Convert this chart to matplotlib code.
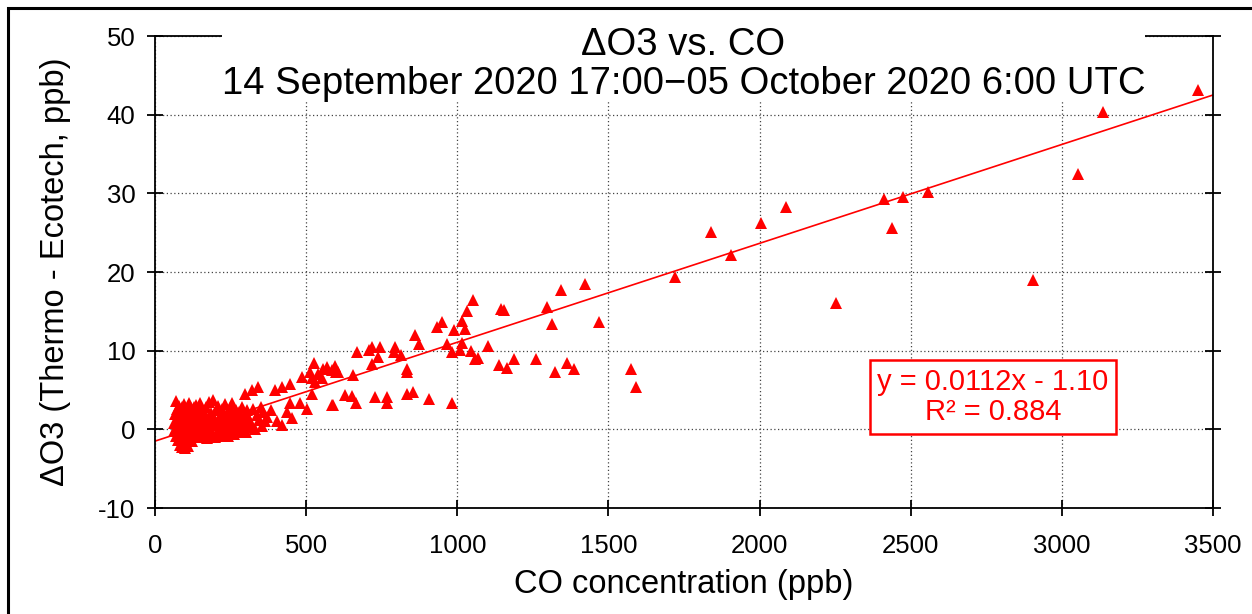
import matplotlib
matplotlib.use("Agg")
import matplotlib.pyplot as plt
from matplotlib.patches import Rectangle

plt.rcParams['font.family'] = ['Liberation Sans', 'DejaVu Sans']
plt.rcParams['axes.unicode_minus'] = False

# --- data (CO in ppb, delta O3 in ppb) ---
# dense cluster near the origin
co_low = [62, 64, 66, 68, 70, 71, 72, 74, 75, 76, 78, 79, 80, 82, 83, 84, 85, 86, 88, 89,
          90, 92, 93, 94, 95, 96, 98, 99, 100, 102, 103, 104, 105, 107, 108, 110, 112, 113,
          115, 117, 118, 120, 122, 124, 125, 127, 129, 130, 132, 135, 137, 139, 140, 142,
          145, 147, 149, 150, 152, 155, 157, 160, 162, 164, 166, 168, 170, 172, 175, 177,
          180, 182, 185, 187, 190, 192, 195, 197, 200, 203, 205, 207, 210, 212, 215, 218,
          220, 222, 225, 228, 230, 232, 235, 238, 240, 242, 245, 248, 250, 252, 255, 258,
          260, 262, 265, 268, 270, 272, 275, 278, 280, 283, 285, 288, 290,
          295, 300, 305, 318, 325, 330, 345, 350, 355, 372, 385]
do3_low = [0.8, -0.2, 1.9, 3.6, 0.2, -0.8, 2.6, 1.2, -1.4, 0.5, 3.0, -0.4, 1.6, -2.0, 2.3,
           0.0, -1.1, 1.0, 2.8, -2.3, 0.4, -1.6, 1.8, -0.6, 3.2, 0.9, -2.4, 1.4, -1.0, 2.5,
           0.1, -1.8, 1.1, -0.3, 2.0, -2.1, 0.6, 3.4, -1.2, 1.5, -0.5, 2.7, 0.3, -1.5, 1.9,
           -0.2, 2.9, 0.8, -0.9, 1.6, 3.1, 0.0, -1.0, 2.2, 0.7, -0.6, 1.3, 3.3, -0.4, 1.0,
           2.5, -0.8, 0.5, 1.8, -0.2, 2.9, 0.9, -1.1, 1.5, 3.5, 0.2, -0.7, 2.1, 1.0, -0.3,
           3.7, 1.4, -1.0, 0.6, 2.4, -0.5, 1.2, 3.0, 0.0, -0.9, 1.7, 2.6, 0.4, -0.6, 1.3,
           3.2, 0.8, -0.3, 2.0, 1.1, -0.8, 0.5, 2.7, 1.5, -0.1, 3.3, 0.9, -0.6, 1.9, 0.3,
           2.5, -0.2, 1.2, 0.6, 2.2, -0.4, 1.6, 0.2, 2.9, 1.0,
           0.2, -0.3, 1.8, 0.6, 2.6, 0.0, 1.2, 2.9, 0.4, 1.6, 2.5]

# 300 - 700 ppb
co_mid = [298, 320, 342, 397, 419, 447, 485, 513, 526, 557, 606, 551, 518, 303, 292, 314,
          336, 358, 309, 364, 403, 419, 436, 447, 452, 480, 502, 518, 584, 540, 570, 530,
          584, 595, 599, 590, 628, 651, 656, 665, 667]
do3_mid = [4.5, 5.0, 5.4, 5.0, 5.4, 5.8, 6.7, 7.3, 8.4, 7.7, 7.3, 6.5, 6.5, 2.4, 1.4, 1.1,
           1.8, 2.2, 0.3, 1.1, 1.1, 0.5, 2.2, 3.3, 1.4, 3.3, 2.6, 4.5, 3.1, 7.0, 7.9, 6.0,
           7.5, 8.1, 7.3, 3.1, 4.4, 4.3, 6.9, 3.3, 9.8]

# 700 - 1700 ppb
co_high = [708, 717, 719, 728, 739, 744, 769, 769, 792, 794, 814, 833, 834, 834, 854, 860,
           873, 905, 934, 951, 966, 982, 984, 990, 1009, 1016, 1017, 1026, 1033, 1044, 1053,
           1060, 1067, 1100, 1138, 1144, 1154, 1165, 1188, 1261, 1297, 1314, 1323, 1344,
           1363, 1385, 1421, 1469, 1576, 1590]
do3_high = [10.1, 8.3, 10.5, 4.1, 9.2, 10.5, 4.1, 3.3, 9.8, 10.5, 9.5, 4.5, 7.7, 7.3, 4.7,
            12.0, 10.8, 3.8, 13.0, 13.7, 10.9, 9.8, 3.3, 12.6, 10.1, 11.0, 13.8, 12.7, 15.0,
            10.0, 16.4, 9.0, 9.1, 10.6, 8.2, 15.3, 15.2, 7.8, 9.0, 8.9, 15.5, 13.4, 7.3, 17.7,
            8.4, 7.7, 18.5, 13.7, 7.7, 5.4]

# above 1700 ppb
co_top = [1721, 1839, 1906, 2004, 2089, 2254, 2412, 2439, 2476, 2558, 2904, 3053, 3136, 3449]
do3_top = [19.4, 25.1, 22.2, 26.2, 28.2, 16.0, 29.3, 25.6, 29.5, 30.2, 19.0, 32.4, 40.4, 43.1]

# fitted line as drawn, and the printed fit
fit_co = [0, 3500]
fit_do3 = [-1.5, 42.5]
fit_text = "y = 0.0112x - 1.10\nR\u00b2 = 0.884"

title_text = "\u0394O3 vs. CO\n14 September 2020 17:00\u221205 October 2020 6:00 UTC"
xticks = [0, 500, 1000, 1500, 2000, 2500, 3000, 3500]
yticks = [-10, 0, 10, 20, 30, 40, 50]

co_ppb = co_low + co_mid + co_high + co_top
do3_ppb = do3_low + do3_mid + do3_high + do3_top

fig = plt.figure(figsize=(12.52, 6.14), dpi=100)
ax = fig.add_axes([155 / 1252, 1 - 508 / 614, 1058 / 1252, 472 / 614])

ax.plot(co_ppb, do3_ppb, linestyle='none', marker='^', markersize=9,
        color='#ff0000', markeredgewidth=0)
ax.plot(fit_co, fit_do3, color='#ff0000', linewidth=1.2)

ax.set_xlim(0, 3500)
ax.set_ylim(-10, 50)
ax.set_xticks(xticks)
ax.set_yticks(yticks)
ax.set_axisbelow(True)
ax.grid(True, color='#444444', linestyle=(0, (1, 2)), linewidth=0.9)

for s in ax.spines.values():
    s.set_linewidth(1.3)

ax.tick_params(axis='both', direction='inout', length=12, width=1.3, labelsize=18.5)
ax.tick_params(axis='y', right=True, pad=8)
ax.tick_params(axis='x', pad=13)

ax.set_xlabel("CO concentration (ppb)", fontsize=23.5, labelpad=8)
ax.set_ylabel("\u0394O3 (Thermo - Ecotech, ppb)", fontsize=23.5, labelpad=20)

ax.text(0.792, 0.235, fit_text, transform=ax.transAxes, ha='center', va='center',
        fontsize=21, color='#ff0000', linespacing=1.1, multialignment='center',
        bbox=dict(boxstyle='square,pad=0.26', facecolor='white', edgecolor='#ff0000',
                  linewidth=1.8))

fig.text(683.5 / 1252, 1 - 64.5 / 614, title_text, ha='center', va='center',
         fontsize=27.5, linespacing=1.08, multialignment='center', zorder=5,
         bbox=dict(boxstyle='square,pad=0.0', facecolor='white', edgecolor='none'))

# frame around the whole picture
fig.patches.append(Rectangle((8 / 1252, -0.1), 1.2, 1.1 - 8 / 614, transform=fig.transFigure,
                             fill=False, edgecolor='black', linewidth=2.2))

fig.savefig("out.png", dpi=100)
